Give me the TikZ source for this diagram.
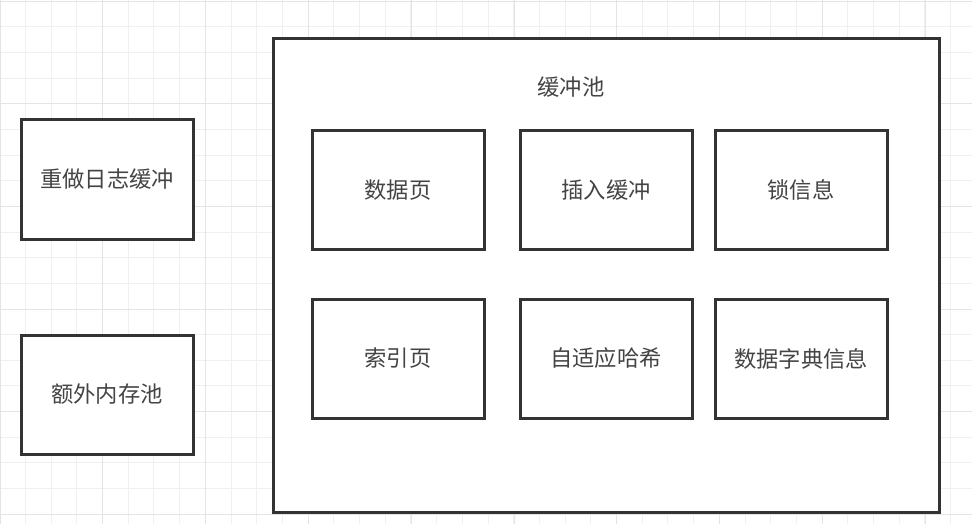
\documentclass[tikz,border=0pt]{standalone}
\usepackage{fontspec}
\newfontfamily\cjk{Noto Sans CJK SC}
\definecolor{gridminor}{HTML}{F0F0F0}
\definecolor{gridmajor}{HTML}{E4E4E4}
\definecolor{boxline}{HTML}{333333}
\definecolor{txt}{HTML}{444444}
\tikzset{
  box/.style={draw=boxline, line width=3pt, fill=white, minimum width=172pt, minimum height=119pt, inner sep=0pt, text=txt, font=\cjk\fontsize{22.3}{26}\selectfont},
  lbl/.style={text=txt, font=\cjk\fontsize{22.3}{26}\selectfont, inner sep=0pt}
}
\begin{document}
\begin{tikzpicture}[x=1pt,y=-1pt]
\useasboundingbox (0,0) rectangle (972,524);
\fill[white] (0,0) rectangle (972,524);
% grid
\foreach \k in {0,...,37} {
  \pgfmathsetmacro{\xx}{25.4+25.7*\k}
  \draw[gridminor, line width=1pt] (\xx,0) -- (\xx,524);
}
\foreach \k in {0,...,20} {
  \pgfmathsetmacro{\yy}{1.2+25.65*\k}
  \draw[gridminor, line width=1pt] (0,\yy) -- (972,\yy);
}
\foreach \k in {0,...,9} {
  \pgfmathsetmacro{\xx}{0+102.8*\k}
  \draw[gridmajor, line width=1pt] (\xx,0) -- (\xx,524);
}
\foreach \k in {0,...,5} {
  \pgfmathsetmacro{\yy}{1.2+102.6*\k}
  \draw[gridmajor, line width=1pt] (0,\yy) -- (972,\yy);
}
% pool
\node[draw=boxline, line width=3pt, fill=white, minimum width=666pt, minimum height=473pt, inner sep=0pt] (pool) at (606,275.5) {};
\node[lbl] (poollbl) at (571,87) {缓冲池};
% left boxes
\node[box] (redo) at (107,179.5) {重做日志缓冲};
\node[box] (extra) at (107,394.5) {额外内存池};
% inner boxes
\node[box] (data) at (398,190) {数据页};
\node[box] (ins) at (606,190) {插入缓冲};
\node[box] (lock) at (801,190) {锁信息};
\node[box] (idx) at (398,358.5) {索引页};
\node[box] (hash) at (606,358.5) {自适应哈希};
\node[box] (dict) at (801,358.5) {数据字典信息};
\end{tikzpicture}
\end{document}
